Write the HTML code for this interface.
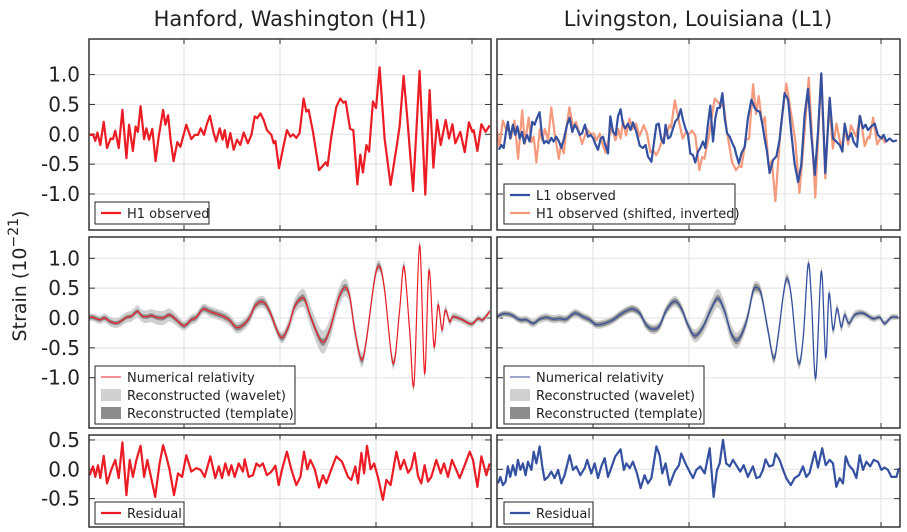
<!DOCTYPE html>
<html><head><meta charset="utf-8">
<style>
html,body{margin:0;padding:0;background:#fff;}
svg{display:block;font-family:"DejaVu Sans","Liberation Sans",sans-serif;}
</style></head>
<body>
<svg id="chart" width="907" height="532" viewBox="0 0 907 532">
<defs>
<clipPath id="cL1"><rect x="89" y="39" width="402" height="191"/></clipPath>
<clipPath id="cR1"><rect x="497" y="39" width="403" height="191"/></clipPath>
<clipPath id="cL2"><rect x="89" y="237" width="402" height="191"/></clipPath>
<clipPath id="cR2"><rect x="497" y="237" width="403" height="191"/></clipPath>
<clipPath id="cL3"><rect x="89" y="435" width="402" height="92"/></clipPath>
<clipPath id="cR3"><rect x="497" y="435" width="403" height="92"/></clipPath>
</defs>
<g id="layer"></g>
</svg>
<script>
// ---- data (time in ms, strain in 1e-21) ----
const h1T=[250.9,252.6,253.8,254.9,256.4,258.2,259.9,261.8,263.0,264.2,266.0,267.9,270.0,271.4,273.4,274.8,276.0,277.4,279.2,280.4,281.8,283.5,285.2,286.8,289.1,290.3,291.7,293.1,294.6,296.5,298.1,301.2,303.8,305.6,307.3,308.7,310.4,312.0,313.5,315.3,316.7,318.6,320.1,321.2,322.6,324.1,325.9,327.6,329.3,331.1,333.3,335.1,336.8,338.2,339.8,341.5,343.2,345.5,346.7,347.6,349.5,351.6,353.6,355.4,356.8,358.5,360.2,362.3,363.7,364.9,367.2,370.3,372.0,373.8,374.8,376.7,379.3,381.4,383.0,384.2,386.5,388.2,390.3,391.8,393.2,395.0,396.4,398.4,400.0,401.9,404.5,407.6,410.9,412.3,414.4,416.3,419.3,422.7,425.7,427.9,429.9,431.8,433.7,436.3,438.0,439.8,441.3,443.9,446.2,448.4,450.2,450.9,452.8,454.9,457.1,459.2];
const h1V=[-0.01,0.00,-0.11,0.03,-0.18,0.21,-0.23,-0.07,-0.08,0.06,-0.23,0.41,-0.40,0.16,-0.28,0.13,0.04,0.47,-0.08,0.10,-0.09,0.09,-0.45,-0.04,0.41,0.16,0.32,-0.12,-0.45,-0.13,-0.21,0.16,-0.08,-0.01,-0.01,0.10,-0.01,0.18,0.31,0.04,-0.12,0.10,-0.09,0.07,-0.22,0.02,-0.26,-0.09,-0.18,0.03,-0.15,-0.01,0.30,0.27,0.35,0.24,0.07,-0.01,-0.15,-0.11,-0.57,-0.23,0.07,-0.04,0.00,-0.06,0.02,0.60,0.38,0.41,0.04,-0.60,-0.54,-0.47,-0.53,-0.04,0.46,0.60,0.53,0.55,0.09,0.07,-0.84,-0.34,-0.64,-0.18,-0.29,0.55,0.44,1.12,-0.07,-0.85,-0.18,0.13,0.98,0.27,-0.95,1.06,-1.01,0.74,-0.56,0.24,-0.18,0.24,-0.07,0.17,-0.15,0.04,-0.30,0.20,0.04,0.07,-0.28,0.17,0.04,0.15];
const h1Shift=-6.9;
const l1T=[251.0,252.3,253.5,254.5,255.7,256.9,258.3,259.5,260.6,261.8,263.0,264.1,265.6,267.0,268.4,269.6,270.8,272.2,273.4,274.5,275.7,276.9,278.3,279.5,280.9,282.3,283.5,284.9,286.5,287.8,289.2,290.5,291.8,293.1,294.4,295.8,297.4,298.8,300.0,301.4,302.6,304.0,305.2,306.4,307.8,309.0,310.4,311.8,313.0,314.4,315.6,316.8,318.2,319.6,320.8,322.6,324.3,326.0,327.4,328.6,330.4,331.8,333.0,334.2,335.6,336.8,337.8,339.1,340.3,341.7,342.9,344.3,345.7,346.9,348.1,349.5,350.7,352.1,353.3,354.7,355.9,357.3,358.5,359.9,361.1,362.5,363.7,364.8,366.0,367.4,368.6,369.8,371.2,372.6,373.8,374.7,376.0,377.3,379.0,380.7,382.5,384.2,385.6,386.8,388.2,389.4,390.6,392.0,393.8,395.5,397.2,399.8,401.6,403.3,405.0,406.8,408.5,410.2,412.0,413.7,415.5,417.2,418.9,421.0,423.3,425.0,426.7,428.5,429.9,431.1,432.8,434.5,435.8,437.5,438.9,440.6,442.0,443.2,444.9,446.7,448.4,450.2,451.4,452.8,454.5,456.3,458.3];
const l1V=[-0.26,-0.18,-0.23,-0.01,0.21,-0.07,0.16,-0.01,0.13,-0.07,0.04,-0.15,-0.01,-0.12,0.21,0.16,0.27,0.37,-0.01,-0.15,-0.11,-0.15,-0.06,-0.12,-0.04,-0.12,-0.23,-0.07,0.16,0.28,0.04,0.16,0.09,-0.01,0.02,0.16,-0.04,-0.01,-0.06,-0.18,-0.26,-0.07,-0.04,-0.18,-0.32,0.30,0.04,-0.01,0.30,0.42,0.16,0.10,0.18,0.07,0.20,0.04,-0.19,-0.23,-0.18,-0.37,-0.46,-0.12,0.16,0.18,-0.09,-0.15,0.16,-0.07,-0.04,0.10,0.22,0.27,0.42,0.24,0.10,-0.01,-0.32,-0.35,-0.47,-0.29,-0.23,-0.12,-0.23,0.18,0.48,-0.12,0.27,0.44,0.44,0.69,0.27,0.02,-0.04,-0.15,-0.23,-0.35,-0.49,-0.32,-0.21,0.27,0.58,0.44,0.39,0.38,0.18,-0.07,-0.29,-0.65,-0.43,-0.37,-0.09,0.69,0.58,0.02,-0.49,-0.80,-0.51,0.32,0.76,-0.01,-0.68,0.04,1.02,-0.65,0.61,-0.07,-0.12,-0.18,-0.29,0.18,-0.09,0.02,-0.13,-0.21,0.31,0.10,0.16,0.07,0.13,0.18,-0.01,-0.07,-0.01,-0.12,-0.07,-0.12,-0.10];
const nrHT=[250.0,252.6,256.1,258.7,262.2,265.6,270.0,272.6,275.7,277.8,280.4,283.0,285.6,289.1,292.5,296.0,300.0,303.8,306.4,309.9,313.4,316.8,320.3,323.8,327.3,330.7,334.2,337.2,341.1,344.6,350.3,354.2,357.6,361.1,363.2,366.3,371.9,375.9,380.2,383.7,386.3,388.9,392.4,395.0,399.3,401.9,404.5,408.9,412.3,414.6,417.5,419.8,422.7,425.3,427.6,430.2,432.3,434.4,436.1,438.4,440.1,444.4,449.7,453.1,455.7,459.2];
const nrHV=[0.01,0.01,-0.03,0.00,-0.07,-0.08,0.01,0.03,0.11,0.04,0.02,0.04,0.01,0.00,0.05,-0.03,-0.13,-0.03,0.01,0.15,0.11,0.07,0.03,-0.04,-0.16,-0.12,0.01,0.21,0.27,0.11,-0.32,-0.16,0.19,0.33,0.29,-0.01,-0.40,-0.20,0.30,0.51,0.36,-0.20,-0.70,-0.37,0.66,0.86,0.47,-0.76,0.13,0.86,-0.20,-1.11,1.22,-0.93,0.80,-0.48,0.22,-0.20,0.13,-0.06,0.02,-0.02,-0.10,-0.01,-0.03,0.11];
const nrLT=[249.7,253.1,257.5,261.8,265.3,268.8,272.2,275.7,279.2,282.6,286.1,290.5,294.8,298.3,301.7,306.1,310.4,313.9,317.4,320.8,324.3,327.8,331.3,334.7,338.2,342.5,346.0,349.5,353.0,357.3,361.6,365.1,368.6,372.0,375.5,379.9,383.3,385.4,387.7,391.1,394.1,396.4,399.0,401.0,403.3,406.8,409.4,412.0,413.7,416.0,418.9,421.2,422.9,425.0,427.1,429.3,431.1,433.3,436.3,440.6,445.8,449.3,451.9,455.4,458.9];
const nrLV=[0.01,0.07,0.05,-0.03,-0.03,-0.09,-0.02,0.01,-0.02,-0.01,-0.02,0.08,0.02,-0.03,-0.11,-0.09,-0.03,0.05,0.12,0.15,0.08,-0.12,-0.19,-0.13,0.13,0.28,0.16,-0.12,-0.30,-0.15,0.16,0.33,0.11,-0.26,-0.37,-0.06,0.44,0.51,0.39,-0.20,-0.68,-0.31,0.36,0.66,0.36,-0.73,-0.37,0.89,0.36,-1.01,0.78,-0.66,0.41,-0.20,0.16,-0.15,0.05,-0.09,0.05,0.08,-0.01,0.01,-0.09,0.01,0.01];
const bandT=[250,270,290,300,320,340,350,360,370,380,390,400,410,420,430,440,460];
const waveletHalfH=[0.06,0.09,0.12,0.08,0.09,0.10,0.09,0.14,0.20,0.16,0.13,0.10,0.10,0.09,0.10,0.07,0.05];
const waveletHalfL=[0.05,0.07,0.07,0.07,0.07,0.09,0.09,0.15,0.16,0.11,0.10,0.09,0.09,0.08,0.09,0.06,0.05];
const templateHalf=[0.035,0.035,0.04,0.04,0.045,0.05,0.05,0.055,0.06,0.06,0.055,0.05,0.045,0.04,0.035,0.03,0.025];
const resHT=[250.9,252.6,253.8,255.2,256.4,258.2,259.9,262.2,264.2,266.0,267.9,270.0,271.7,273.4,275.2,277.4,279.2,280.9,282.6,285.0,287.3,289.1,290.8,292.5,294.8,296.9,299.0,301.2,303.8,306.4,308.7,310.8,313.7,316.3,318.1,319.8,321.5,323.3,324.7,326.4,328.5,330.7,331.6,333.7,335.9,337.7,339.4,341.1,343.2,345.5,347.6,349.3,351.0,353.6,355.9,358.5,360.6,362.5,364.2,365.8,368.1,370.3,372.4,374.1,376.7,379.3,382.3,385.4,387.2,389.2,390.6,392.4,393.8,395.3,397.2,399.0,401.0,403.6,405.4,407.6,410.6,412.7,414.6,416.7,418.4,420.1,421.9,423.6,425.3,427.1,428.8,431.4,433.7,435.4,437.5,439.6,441.8,443.6,446.2,448.8,450.5,452.8,454.9,457.5,459.2];
const resHV=[-0.10,0.05,-0.13,0.07,-0.15,0.23,-0.24,0.00,0.16,-0.15,0.46,-0.44,0.16,-0.13,0.16,0.40,-0.13,0.16,-0.10,-0.47,0.10,0.41,0.22,-0.01,-0.44,-0.07,-0.13,0.24,-0.04,0.02,-0.01,-0.13,0.22,-0.15,0.05,-0.15,0.10,-0.10,0.07,-0.13,0.10,-0.04,0.17,-0.13,-0.10,0.10,0.05,0.10,-0.10,-0.04,0.06,-0.27,-0.01,0.30,0.00,-0.27,-0.13,0.30,0.00,0.16,0.00,-0.31,-0.10,-0.24,0.00,0.22,0.13,-0.13,-0.18,0.05,-0.24,0.28,-0.07,0.40,0.00,0.10,-0.13,-0.52,-0.18,-0.27,0.30,0.00,0.16,-0.06,0.02,0.28,-0.11,-0.24,0.07,-0.21,-0.13,0.16,-0.07,0.10,-0.13,0.16,-0.01,-0.15,0.07,0.30,0.16,-0.30,0.22,-0.10,0.10];
const resLT=[250.5,251.7,253.1,254.5,255.7,256.9,258.3,259.7,260.9,262.2,263.5,264.9,266.1,267.9,269.1,270.5,272.2,273.6,274.8,276.6,278.3,280.0,281.8,283.5,285.2,287.8,289.6,291.3,293.4,295.7,297.0,299.1,300.9,302.6,304.3,306.1,307.8,309.5,311.6,314.4,316.1,317.4,319.1,320.8,322.9,324.8,326.9,328.6,330.4,333.0,334.7,336.1,337.8,339.9,342.5,344.8,346.0,348.1,350.3,352.1,353.8,355.9,358.2,360.8,362.8,364.6,366.0,367.7,369.4,371.2,372.9,375.0,376.7,378.5,380.7,383.3,385.1,386.8,388.5,389.9,391.7,393.8,395.1,397.2,399.0,400.7,403.0,405.0,407.3,409.4,411.1,412.8,415.5,417.2,419.4,421.2,423.3,425.0,426.7,428.5,430.2,431.6,433.3,435.4,437.2,438.9,440.6,442.4,444.4,446.2,448.4,450.2,451.9,453.6,455.4,458.0,459.4];
const resLV=[-0.24,-0.13,-0.27,-0.21,0.05,-0.13,0.07,-0.10,0.16,-0.01,0.10,-0.10,0.13,-0.01,0.30,0.10,0.39,0.05,-0.18,-0.13,-0.04,-0.15,-0.01,-0.24,-0.10,0.24,-0.01,0.05,-0.10,0.02,0.16,-0.07,0.10,-0.15,0.05,0.19,-0.13,0.02,0.22,0.34,-0.01,0.10,0.02,0.13,-0.07,-0.32,-0.10,-0.24,-0.15,0.39,0.24,-0.07,0.10,-0.27,-0.04,0.07,0.27,0.10,-0.04,-0.15,-0.01,0.05,-0.07,0.36,-0.47,-0.01,0.10,0.50,0.10,0.05,0.16,0.05,-0.04,0.07,-0.13,0.05,-0.15,-0.13,-0.01,0.17,0.05,0.07,0.27,0.16,-0.01,-0.15,-0.27,-0.15,-0.10,0.05,-0.13,-0.06,0.30,0.03,0.36,0.07,0.16,0.10,-0.30,-0.15,-0.24,0.22,0.07,-0.01,-0.15,0.24,-0.01,0.13,0.05,0.16,0.13,-0.01,0.03,-0.01,-0.13,-0.13,0.02];
const yTicksMain=[1.0,0.5,0.0,-0.5,-1.0];
const yTicksRes=[0.5,0.0,-0.5];
const xTicks=[300,350,400,450];

// ---- layout ----
const NS='http://www.w3.org/2000/svg';
const layer=document.getElementById('layer');
function mk(tag,attrs,parent){const e=document.createElementNS(NS,tag);for(const k in attrs)e.setAttribute(k,attrs[k]);(parent||layer).appendChild(e);return e;}
const cols={L:{x0:89,x1:491,ref:184},R:{x0:497,x1:900,ref:593}};
const rows={1:{y0:39,y1:230,zero:134.3,k:59.7},2:{y0:237,y1:428,zero:318,k:59.7},3:{y0:435,y1:527,zero:469.3,k:58.7}};
const xs=(c,t)=>cols[c].ref+(t-300)*1.92;
const ys=(r,v)=>rows[r].zero-v*rows[r].k;
function interp(T,V,t){if(t<=T[0])return V[0];for(let i=1;i<T.length;i++){if(t<=T[i]){const f=(t-T[i-1])/(T[i]-T[i-1]);return V[i-1]+f*(V[i]-V[i-1]);}}return V[V.length-1];}
function linPath(c,r,T,V){return T.map((t,i)=>(i?'L':'M')+xs(c,t).toFixed(1)+','+ys(r,V[i]).toFixed(1)).join('');}
function smoothPts(c,r,T,V){return T.map((t,i)=>[xs(c,t),ys(r,V[i])]);}
function crPath(p,start){let d=(start?'M':'L')+p[0][0].toFixed(1)+','+p[0][1].toFixed(1);
 for(let i=0;i<p.length-1;i++){const p0=p[i-1]||p[i],p1=p[i],p2=p[i+1],p3=p[i+2]||p2;
  const c1=[p1[0]+(p2[0]-p0[0])/6,p1[1]+(p2[1]-p0[1])/6],c2=[p2[0]-(p3[0]-p1[0])/6,p2[1]-(p3[1]-p1[1])/6];
  d+='C'+c1[0].toFixed(1)+','+c1[1].toFixed(1)+' '+c2[0].toFixed(1)+','+c2[1].toFixed(1)+' '+p2[0].toFixed(1)+','+p2[1].toFixed(1);}
 return d;}
function bandPath(c,r,T,V,half){const up=T.map((t,i)=>[xs(c,t),ys(r,V[i]+interp(bandT,half,t))]);
 const lo=T.map((t,i)=>[xs(c,t),ys(r,V[i]-interp(bandT,half,t))]).reverse();return crPath(up,true)+crPath(lo,false)+'Z';}

function panel(c,r,name){
 const g=mk('g',{});
 
 
 const C=cols[c],R=rows[r];
 const ticks=r==3?yTicksRes:yTicksMain;
 xTicks.forEach(t=>{const x=xs(c,t);const l=mk('line',{x1:x,x2:x,y1:R.y0,y2:R.y1,stroke:'#e6e6e6','stroke-width':1.2},g);
  
  mk('line',{x1:x,x2:x,y1:R.y0,y2:R.y0+5,stroke:'#333','stroke-width':1},g);mk('line',{x1:x,x2:x,y1:R.y1-5,y2:R.y1,stroke:'#333','stroke-width':1},g);});
 ticks.forEach(v=>{const y=ys(r,v);const l=mk('line',{x1:C.x0,x2:C.x1,y1:y,y2:y,stroke:'#e6e6e6','stroke-width':1.2},g);
  
  mk('line',{x1:C.x0,x2:C.x0+6,y1:y,y2:y,stroke:'#333','stroke-width':1},g);mk('line',{x1:C.x1-6,x2:C.x1,y1:y,y2:y,stroke:'#333','stroke-width':1},g);
  if(c=='L'){const tx=mk('text',{x:80,y:y+7,'text-anchor':'end','font-size':20,fill:'#222'},g);tx.textContent=v.toFixed(1);
   }});
 return g;}
function series(g,d,stroke,w,clip,name,fill){const p=mk('path',{d:d,fill:fill||'none',stroke:stroke,'stroke-width':w,'stroke-linejoin':'round','clip-path':'url(#'+clip+')'},g);
 return p;}
function frame(c,r){const C=cols[c],R=rows[r];const f=mk('rect',{x:C.x0,y:R.y0,width:C.x1-C.x0,height:R.y1-R.y0,fill:'none',stroke:'#333','stroke-width':1.5});
 }
function legend(x,y,w,items,name){const g=mk('g',{});
 mk('rect',{x:x,y:y,width:w,height:items.length*18+4,fill:'#fff',stroke:'#222','stroke-width':1},g);
 items.forEach((it,i)=>{const cy=y+11+i*18;
  if(it.kind=='line')mk('line',{x1:x+6,x2:x+26,y1:cy,y2:cy,stroke:it.color,'stroke-width':it.w},g);
  else mk('rect',{x:x+6,y:cy-6,width:20,height:12,fill:it.color},g);
  const t=mk('text',{x:x+32,y:cy+5,'font-size':13,fill:'#222'},g);t.textContent=it.label;
  });}

const RED='#ec1c24',BLUE='#3450a0',ORANGE='#f59a7c',LG='#d0d0d0',DG='#8c8c8c';
// Row 1
let g=panel('L',1,'h1-observed-panel');
series(g,linPath('L',1,h1T,h1V),RED,2.2,'cL1','h1-observed-line');
g=panel('R',1,'l1-observed-panel');
series(g,linPath('R',1,h1T.map(t=>t+h1Shift),h1V.map(v=>-v)),ORANGE,2.2,'cR1','h1-shifted-inverted-line');
series(g,linPath('R',1,l1T,l1V),BLUE,2.2,'cR1','l1-observed-line');
// Row 2
g=panel('L',2,'h1-reconstruction-panel');
series(g,bandPath('L',2,nrHT,nrHV,waveletHalfH),'none',0,'cL2','h1-wavelet-band',LG);
series(g,bandPath('L',2,nrHT,nrHV,templateHalf),'none',0,'cL2','h1-template-band',DG);
series(g,crPath(smoothPts('L',2,nrHT,nrHV),true),RED,1.2,'cL2','h1-numerical-relativity-line');
g=panel('R',2,'l1-reconstruction-panel');
series(g,bandPath('R',2,nrLT,nrLV,waveletHalfL),'none',0,'cR2','l1-wavelet-band',LG);
series(g,bandPath('R',2,nrLT,nrLV,templateHalf),'none',0,'cR2','l1-template-band',DG);
series(g,crPath(smoothPts('R',2,nrLT,nrLV),true),BLUE,1.3,'cR2','l1-numerical-relativity-line');
// Row 3
g=panel('L',3,'h1-residual-panel');
series(g,linPath('L',3,resHT,resHV),RED,2.2,'cL3','h1-residual-line');
g=panel('R',3,'l1-residual-panel');
series(g,linPath('R',3,resLT,resLV),BLUE,2.2,'cR3','l1-residual-line');
['L','R'].forEach(c=>[1,2,3].forEach(r=>frame(c,r)));
// legends
legend(95,202,114,[{kind:'line',color:RED,w:2.2,label:'H1 observed'}],'h1-observed-legend');
legend(504,184,231,[{kind:'line',color:BLUE,w:2.2,label:'L1 observed'},{kind:'line',color:ORANGE,w:2.2,label:'H1 observed (shifted, inverted)'}],'l1-observed-legend');
legend(95,366,200,[{kind:'line',color:RED,w:1,label:'Numerical relativity'},{kind:'rect',color:LG,label:'Reconstructed (wavelet)'},{kind:'rect',color:DG,label:'Reconstructed (template)'}],'h1-reconstruction-legend');
legend(504,366,200,[{kind:'line',color:BLUE,w:1,label:'Numerical relativity'},{kind:'rect',color:LG,label:'Reconstructed (wavelet)'},{kind:'rect',color:DG,label:'Reconstructed (template)'}],'l1-reconstruction-legend');
legend(95,502,89,[{kind:'line',color:RED,w:2.2,label:'Residual'}],'h1-residual-legend');
legend(504,502,89,[{kind:'line',color:BLUE,w:2.2,label:'Residual'}],'l1-residual-legend');
// titles
let t=mk('text',{x:290,y:26,'text-anchor':'middle','font-size':21,fill:'#222'});t.textContent='Hanford, Washington (H1)';

t=mk('text',{x:698,y:26,'text-anchor':'middle','font-size':21,fill:'#222'});t.textContent='Livingston, Louisiana (L1)';

t=mk('text',{x:0,y:0,'text-anchor':'middle','font-size':19,fill:'#222',transform:'translate(26,276) rotate(-90)'});
t.innerHTML='Strain (10<tspan dy="-8" font-size="14">−21</tspan><tspan dy="8">)</tspan>';

</script>
</body></html>
